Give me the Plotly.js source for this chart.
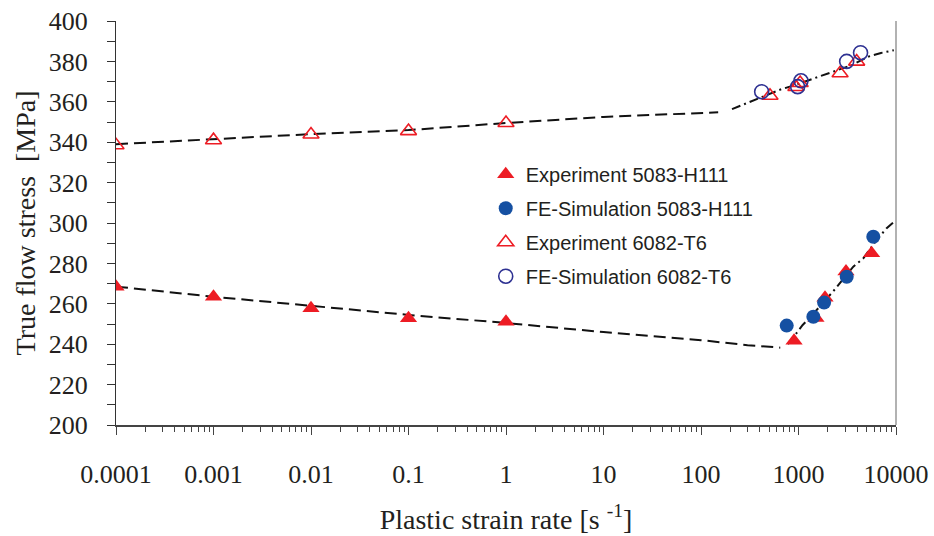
<!DOCTYPE html>
<html>
<head>
<meta charset="utf-8">
<script src="https://cdn.plot.ly/plotly-3.0.1.min.js"></script>
<style>html,body{margin:0;padding:0;background:#fff;}#chart{width:934px;height:536px;}</style>
</head>
<body>
<div id="chart"></div>
<script>
// ---- data ----
const rate5083Exp = [0.0001, 0.001, 0.01, 0.1, 1, 900, 1510, 1870, 3070, 5620];
const stress5083Exp = [268.5, 263.5, 257.8, 252.8, 251.1, 241.7, 253, 263, 276, 285];
const rate5083Sim = [757, 1420, 1830, 3120, 5850];
const stress5083Sim = [249.2, 253.6, 260.6, 273.4, 293.2];
const rate6082Exp = [0.0001, 0.001, 0.01, 0.1, 1, 510, 940, 1040, 2670, 3950];
const stress6082Exp = [338.5, 341, 343.8, 345.5, 349.5, 363, 367.3, 369.3, 374.1, 379.9];
const rate6082Sim = [419, 980, 1060, 3120, 4330];
const stress6082Sim = [365, 367.5, 370.4, 380, 384.3];

// fitted trend curves
const fit5083LoX = [0.0001, 0.001, 0.01, 0.1, 1, 10, 100, 300, 650];
const fit5083LoY = [268.5, 263.5, 259, 254.5, 250.5, 246, 242, 239.5, 238.3];
const fit5083HiX = [780, 1104, 1596, 2366, 3648, 4624, 6324, 8017, 9530];
const fit5083HiY = [240, 249.5, 257.8, 267.2, 278.4, 282.5, 291.6, 297.4, 300.6];
const fit6082LoX = [0.0001, 0.001, 0.01, 0.1, 1, 10, 100, 150];
const fit6082LoY = [339, 341.5, 344, 346, 349.5, 352.5, 354.5, 354.8];
const fit6082HiX = [208, 318, 646, 920, 1475, 2208, 3540, 5165, 7015, 9500];
const fit6082HiY = [356.4, 360, 366, 368.3, 371.8, 374.4, 378.2, 382.3, 384.2, 385.5];

const xTickVals = [0.0001, 0.001, 0.01, 0.1, 1, 10, 100, 1000, 10000];
const xTickText = ['0.0001', '0.001', '0.01', '0.1', '1', '10', '100', '1000', '10000'];
const yTickVals = [200, 220, 240, 260, 280, 300, 320, 340, 360, 380, 400];

const red = '#ED1C24';
const blue = '#1550A2';
const navy = '#2E3192';

function fit(x, y, dash) {
  return {x: x, y: y, mode: 'lines', type: 'scatter', showlegend: false, hoverinfo: 'skip',
    line: {color: '#111', width: 2, dash: dash}};
}

const traces = [
  fit(fit5083LoX, fit5083LoY, '12px,6px'),
  fit(fit5083HiX, fit5083HiY, '9px,4px,2px,4px'),
  fit(fit6082LoX, fit6082LoY, '12px,6px'),
  fit(fit6082HiX, fit6082HiY, '9px,4px,2px,4px'),
  {x: rate6082Exp, y: stress6082Exp, name: 'Experiment 6082-T6', mode: 'markers', type: 'scatter', legendgroup: 'c', legendrank: 3,
    marker: {symbol: 'triangle-up-open', size: 14, color: red, line: {width: 1.6, color: red}}},
  {x: rate6082Sim, y: stress6082Sim, name: 'FE-Simulation 6082-T6', mode: 'markers', type: 'scatter', legendgroup: 'd', legendrank: 4,
    marker: {symbol: 'circle-open', size: 14, color: navy, line: {width: 1.6, color: navy}}},
  {x: rate5083Exp, y: stress5083Exp, name: 'Experiment 5083-H111', mode: 'markers', type: 'scatter', legendgroup: 'a', legendrank: 1,
    marker: {symbol: 'triangle-up', size: 15, color: red}},
  {x: rate5083Sim, y: stress5083Sim, name: 'FE-Simulation 5083-H111', mode: 'markers', type: 'scatter', legendgroup: 'b', legendrank: 2,
    marker: {symbol: 'circle', size: 14, color: blue}}
];

const serif = 'Liberation Serif, Times New Roman, serif';
const layout = {
  width: 934, height: 536,
  margin: {l: 116, r: 38, t: 21, b: 111},
  paper_bgcolor: '#fff', plot_bgcolor: '#fff',
  showlegend: true,
  legend: {x: 0.474, y: 0.669, xanchor: 'left', yanchor: 'top', bgcolor: 'rgba(0,0,0,0)',
    font: {family: 'Liberation Sans, Arial, sans-serif', size: 20, color: '#231f20'},
    tracegroupgap: 5, traceorder: 'grouped', itemwidth: 30},
  xaxis: {type: 'log', range: [-4, 4], tickmode: 'array', tickvals: xTickVals, ticktext: xTickText,
    ticks: 'outside', ticklen: 8, tickcolor: '#444', tickwidth: 1,
    showline: true, linecolor: '#444', linewidth: 1.5, showgrid: false, zeroline: false,
    ticklabelstandoff: 17,
    minor: {dtick: 'D1', ticks: 'outside', ticklen: 5, tickcolor: '#444', tickwidth: 1, showgrid: false},
    tickfont: {family: serif, size: 26, color: '#231f20'},
    title: {text: 'Plastic strain rate [s <sup>-1</sup>]', font: {family: serif, size: 28, color: '#231f20'}, standoff: 21}},
  yaxis: {range: [200, 400], tickmode: 'array', tickvals: yTickVals,
    ticks: 'outside', ticklen: 8, tickcolor: '#333', tickwidth: 1,
    showline: true, linecolor: '#333', linewidth: 1, showgrid: false, zeroline: false,
    ticklabelstandoff: 14,
    minor: {dtick: 10, ticks: 'outside', ticklen: 8, tickcolor: '#333', tickwidth: 1, showgrid: false},
    tickfont: {family: serif, size: 26, color: '#231f20'},
    title: {text: 'True flow stress&nbsp; [MPa]', font: {family: serif, size: 28, color: '#231f20'}, standoff: 4}},
  shapes: [{type: 'line', xref: 'paper', yref: 'paper', x0: 1, x1: 1, y0: 0, y1: 1,
    line: {color: '#999', width: 1.5}}]
};

Plotly.newPlot('chart', traces, layout, {displayModeBar: false, staticPlot: true});
</script>
</body>
</html>
